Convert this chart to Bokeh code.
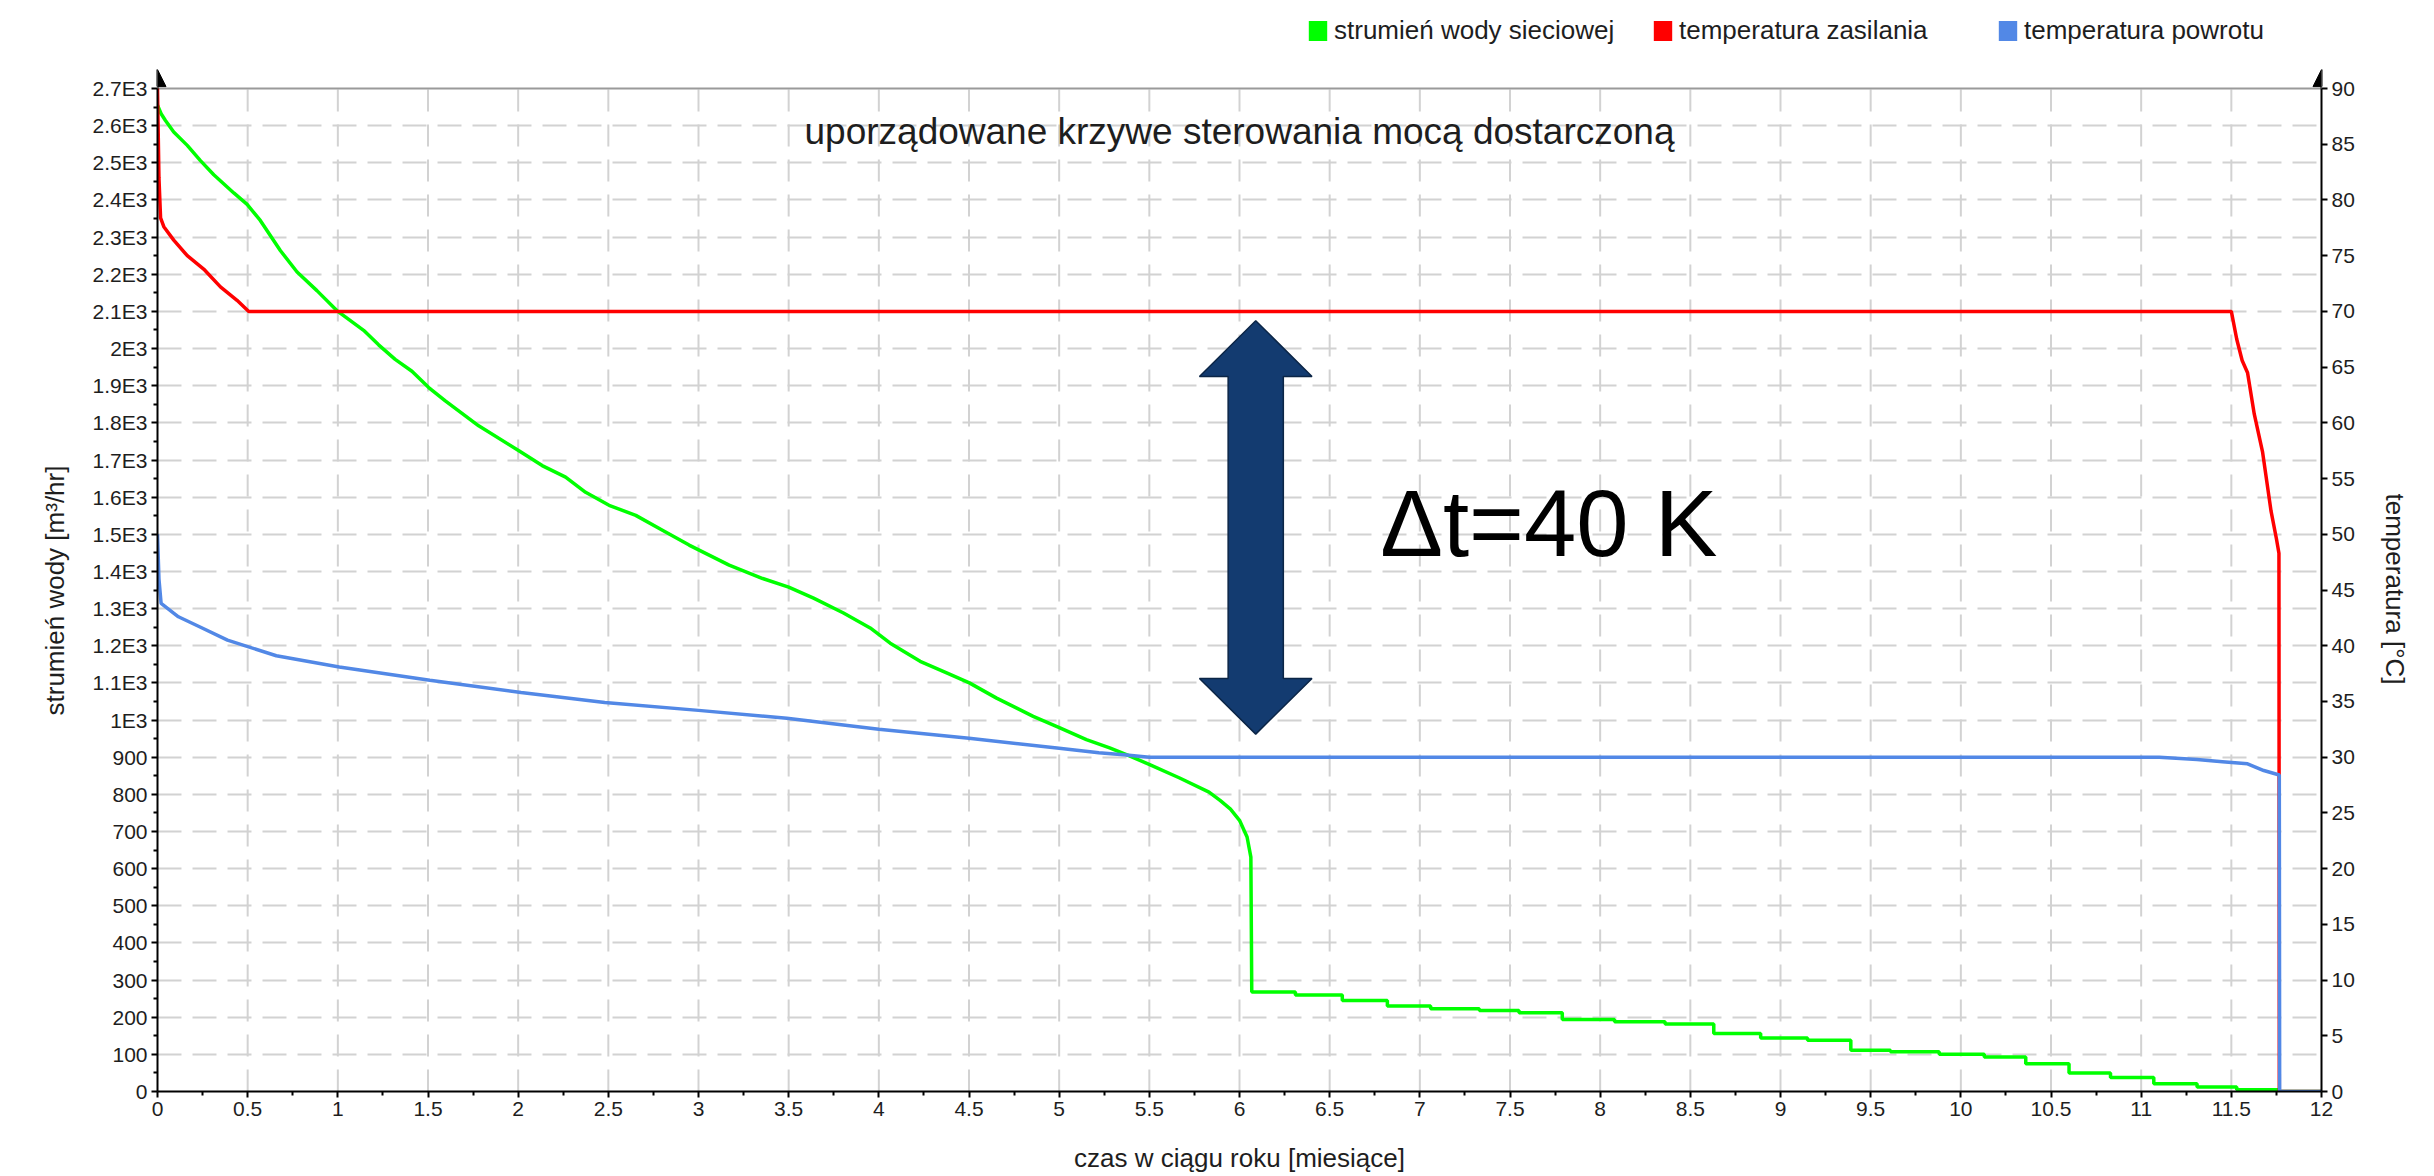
from bokeh.plotting import figure
from bokeh.models import (Range1d, LinearAxis, FixedTicker, Label, Arrow, Title,
                          NormalHead, Legend, LegendItem)
from bokeh.embed import file_html
from bokeh.resources import INLINE

# ---------------- data ----------------
# network water flow [m3/h] against time of year [months], smooth part
flow_month = [0.0, 0.02, 0.044, 0.09, 0.165, 0.238, 0.312, 0.423, 0.497, 0.57,
              0.681, 0.774, 0.884, 1.0, 1.143, 1.226, 1.318, 1.411, 1.504, 1.596,
              1.781, 2.004, 2.133, 2.263, 2.374, 2.504, 2.652, 2.8, 2.948, 3.17,
              3.356, 3.5, 3.638, 3.804, 3.952, 4.063, 4.229, 4.376, 4.502, 4.653,
              4.856, 5.004, 5.151, 5.28, 5.373, 5.502, 5.668, 5.831, 5.894, 5.95,
              6.0, 6.042, 6.063]
flow_value = [2655, 2632, 2614, 2583, 2547, 2506, 2468, 2419, 2388, 2345,
              2264, 2206, 2156, 2100, 2049, 2010, 1971, 1939, 1895, 1859,
              1792, 1725, 1685, 1654, 1613, 1578, 1551, 1511, 1471, 1417,
              1381, 1358, 1328, 1288, 1248, 1207, 1158, 1127, 1100, 1059,
              1010, 979, 947, 925, 907, 880, 844, 806, 783, 760,
              730, 685, 631]
# summer part of the flow curve: level steps (start month, level)
flow_step_month = [6.068, 6.31, 6.57, 6.82, 7.06, 7.33, 7.55, 7.79, 8.08, 8.36,
                   8.63, 8.89, 9.15, 9.39, 9.61, 9.88, 10.13, 10.36, 10.6, 10.83,
                   11.07, 11.31, 11.53, 11.766]
flow_step_value = [268, 260, 245, 230, 223, 218, 212, 194, 188, 182,
                   156, 144, 138, 111, 107, 100, 93, 75, 50, 38,
                   21, 12, 5, 0]

# supply temperature [degC]
supply_month = [0.0, 0.008, 0.017, 0.035, 0.09, 0.165, 0.256, 0.349, 0.441, 0.506,
                11.5, 11.53, 11.56, 11.59, 11.627, 11.673, 11.72, 11.75, 11.764,
                11.766, 12.0]
supply_temp = [90.0, 82.0, 78.4, 77.6, 76.4, 75.0, 73.8, 72.2, 71.0, 70.0,
               70.0, 67.5, 65.6, 64.5, 60.8, 57.4, 52.1, 49.6, 48.3,
               0.0, 0.0]

# return temperature [degC]
return_month = [0.0, 0.008, 0.02, 0.116, 0.233, 0.388, 0.659, 1.008, 1.51, 2.016,
                2.48, 3.0, 3.49, 4.0, 4.5, 5.0, 5.22, 5.373, 5.5, 11.1,
                11.31, 11.45, 11.59, 11.68, 11.766, 11.768, 12.0]
return_temp = [50.0, 46.0, 43.8, 42.6, 41.7, 40.5, 39.1, 38.1, 36.9, 35.8,
               34.9, 34.2, 33.5, 32.5, 31.7, 30.8, 30.4, 30.2, 30.0, 30.0,
               29.8, 29.6, 29.4, 28.8, 28.4, 0.0, 0.0]

# axis ticks and labels
x_ticks = [0.0, 0.5, 1.0, 1.5, 2.0, 2.5, 3.0, 3.5, 4.0, 4.5, 5.0, 5.5, 6.0,
           6.5, 7.0, 7.5, 8.0, 8.5, 9.0, 9.5, 10.0, 10.5, 11.0, 11.5, 12.0]
x_tick_labels = ["0", "0.5", "1", "1.5", "2", "2.5", "3", "3.5", "4", "4.5",
                 "5", "5.5", "6", "6.5", "7", "7.5", "8", "8.5", "9", "9.5",
                 "10", "10.5", "11", "11.5", "12"]
flow_ticks = [0, 100, 200, 300, 400, 500, 600, 700, 800, 900, 1000, 1100, 1200,
              1300, 1400, 1500, 1600, 1700, 1800, 1900, 2000, 2100, 2200, 2300,
              2400, 2500, 2600, 2700]
flow_tick_labels = ["0", "100", "200", "300", "400", "500", "600", "700", "800",
                    "900", "1E3", "1.1E3", "1.2E3", "1.3E3", "1.4E3", "1.5E3",
                    "1.6E3", "1.7E3", "1.8E3", "1.9E3", "2E3", "2.1E3", "2.2E3",
                    "2.3E3", "2.4E3", "2.5E3", "2.6E3", "2.7E3"]
temp_ticks = [0, 5, 10, 15, 20, 25, 30, 35, 40, 45, 50, 55, 60, 65, 70, 75, 80, 85, 90]

# ---------------- styling ----------------
FONT = "Liberation Sans"
GREEN = "#00ff00"
RED = "#ff0000"
BLUE = "#5288e6"
GRID = "#d2d2d2"
TEXT = "#1e1e1e"
LINE_W = 3.5

FLOW_MAX = 2700
TEMP_MAX = 90
AXIS_TOP = 2751          # axis lines run a little past the last tick, to the arrow tips
VIEW_TOP = 2937          # headroom above the axes for the legend row
X_MAX = 12

p = figure(width=2434, height=1176, output_backend="svg", toolbar_location=None,
           x_range=Range1d(0, X_MAX), y_range=Range1d(0, VIEW_TOP),
           min_border_left=157, min_border_right=110,
           min_border_top=0, min_border_bottom=85)
p.extra_y_ranges = {"temp": Range1d(0, VIEW_TOP * TEMP_MAX / FLOW_MAX)}
p.outline_line_color = None
p.background_fill_color = "white"
p.border_fill_color = "white"

# grid: horizontal lines from the flow ticks, vertical lines from the month ticks
p.xgrid.visible = False
yg = p.ygrid[0]
yg.ticker = FixedTicker(ticks=flow_ticks[1:-1])
yg.grid_line_color = GRID
yg.grid_line_width = 2
yg.grid_line_dash = "24 11"
inner_x = x_ticks[1:-1]
p.segment(x0=inner_x, y0=[0] * len(inner_x), x1=inner_x, y1=[FLOW_MAX] * len(inner_x),
          line_color=GRID, line_width=2, line_dash="22 13")
p.line([x_ticks[0], x_ticks[-1]], [FLOW_MAX, FLOW_MAX], line_color="#9a9a9a", line_width=2)


def style_axis(ax):
    ax.axis_line_color = "black"
    ax.axis_line_width = 2
    ax.major_tick_line_color = "black"
    ax.major_tick_line_width = 2
    ax.major_tick_out = 6
    ax.major_tick_in = 0
    ax.minor_tick_line_color = "black"
    ax.minor_tick_line_width = 2
    ax.minor_tick_out = 4
    ax.minor_tick_in = 0
    ax.major_label_text_font = FONT
    ax.major_label_text_font_size = "21px"
    ax.major_label_text_color = TEXT
    ax.major_label_standoff = 4
    ax.axis_label_text_font = FONT
    ax.axis_label_text_font_size = "26px"
    ax.axis_label_text_font_style = "normal"
    ax.axis_label_text_color = TEXT


xa = p.xaxis[0]
style_axis(xa)
xa.ticker = FixedTicker(ticks=x_ticks, minor_ticks=[t + 0.25 for t in x_ticks[:-1]])
xa.major_label_overrides = dict(zip(x_ticks, x_tick_labels))
xa.axis_label = "czas w ciągu roku [miesiące]"
xa.axis_label_standoff = 24

ya = p.yaxis[0]
style_axis(ya)
ya.bounds = (0, FLOW_MAX)
ya.ticker = FixedTicker(ticks=flow_ticks, minor_ticks=[t + 50 for t in flow_ticks[:-1]])
ya.major_label_overrides = dict(zip(flow_ticks, flow_tick_labels))

ra = LinearAxis(y_range_name="temp", ticker=FixedTicker(ticks=temp_ticks),
                bounds=(0, TEMP_MAX))
style_axis(ra)
ra.minor_tick_line_color = None
p.add_layout(ra, "right")

# vertical axis titles, centred on the ticked part of each axis
p.add_layout(Title(text="strumień wody [m³/hr]", align="left", vertical_align="bottom",
                   offset=376, standoff=40, text_font=FONT, text_font_size="26px",
                   text_font_style="normal", text_color=TEXT), "left")
p.add_layout(Title(text="temperatura [°C]", align="left", vertical_align="bottom",
                   offset=493, standoff=45, text_font=FONT, text_font_size="26px",
                   text_font_style="normal", text_color=TEXT), "right")

# axis extensions with arrow heads on top of both vertical axes
for ax_x in (0, X_MAX):
    p.add_layout(Arrow(end=NormalHead(size=17, fill_color="black", line_color="black"),
                       x_start=ax_x, y_start=FLOW_MAX, x_end=ax_x, y_end=AXIS_TOP,
                       line_color="black", line_width=2))

# ---------------- curves ----------------
green_x = list(flow_month)
green_y = list(flow_value)
for i, (m, v) in enumerate(zip(flow_step_month, flow_step_value)):
    green_x.append(m)
    green_y.append(v)
    end = flow_step_month[i + 1] if i + 1 < len(flow_step_month) else X_MAX
    green_x.append(end)
    green_y.append(v)

p.line(green_x, green_y, line_color=GREEN, line_width=LINE_W)
p.line(supply_month, supply_temp, y_range_name="temp", line_color=RED, line_width=LINE_W)
p.line(return_month, return_temp, y_range_name="temp", line_color=BLUE, line_width=LINE_W)

# double arrow between supply and return temperature
ARROW_X = 6.09
ARROW_TOP = 2075
ARROW_BOTTOM = 962
HEAD_LEN = 150
HEAD_HALF = 0.312
SHAFT_HALF = 0.153
ax_pts = [ARROW_X, ARROW_X + HEAD_HALF, ARROW_X + SHAFT_HALF, ARROW_X + SHAFT_HALF,
          ARROW_X + HEAD_HALF, ARROW_X, ARROW_X - HEAD_HALF, ARROW_X - SHAFT_HALF,
          ARROW_X - SHAFT_HALF, ARROW_X - HEAD_HALF]
ay_pts = [ARROW_TOP, ARROW_TOP - HEAD_LEN, ARROW_TOP - HEAD_LEN, ARROW_BOTTOM + HEAD_LEN,
          ARROW_BOTTOM + HEAD_LEN, ARROW_BOTTOM, ARROW_BOTTOM + HEAD_LEN,
          ARROW_BOTTOM + HEAD_LEN, ARROW_TOP - HEAD_LEN, ARROW_TOP - HEAD_LEN]
p.patch(ax_pts, ay_pts, fill_color="#133b70", line_color="#0b2546", line_width=1.5)

p.add_layout(Label(x=6.78, y=1529, text="Δt=40 K", text_font=FONT,
                   text_font_size="94px", text_color="black",
                   text_baseline="alphabetic", text_align="left"))

p.add_layout(Label(x=6.0, y=2585, text="uporządowane krzywe sterowania mocą dostarczoną",
                   text_font=FONT, text_font_size="37px", text_color=TEXT,
                   text_align="center", text_baseline="alphabetic"))

# ---------------- legend ----------------
# hidden square glyphs that only supply the legend swatches
swatches = []
for colour in (GREEN, RED, BLUE):
    r = p.rect(x=flow_month[:1], y=flow_value[:1], width=0, height=0,
               fill_color=colour, line_color=None)
    r.visible = False
    swatches.append(r)
legend = Legend(items=[LegendItem(label="strumień wody sieciowej", renderers=[swatches[0]]),
                       LegendItem(label="temperatura zasilania", renderers=[swatches[1]]),
                       LegendItem(label="temperatura powrotu", renderers=[swatches[2]])],
                orientation="horizontal", location=(1149, 1045),
                glyph_width=23, glyph_height=25, label_standoff=5,
                label_width=282, spacing=35, padding=4, margin=0,
                border_line_color=None, background_fill_alpha=0,
                label_text_font=FONT, label_text_font_size="26px",
                label_text_color=TEXT)
p.add_layout(legend, "center")

open("out.html", "w").write(file_html(p, INLINE))
